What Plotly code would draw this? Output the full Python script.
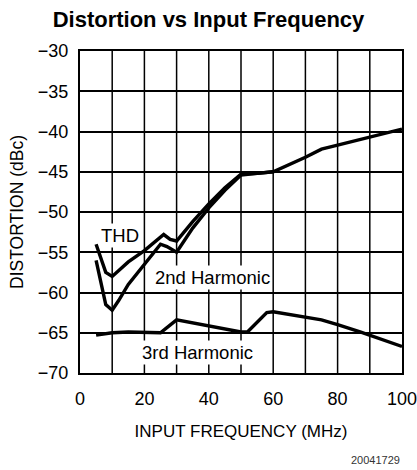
import plotly.graph_objects as go

thd_x = [5, 8, 10, 15, 20, 25, 26, 28, 30, 35, 40, 45, 50, 55, 60, 70, 75, 80, 90, 100]
thd_y = [-54, -57.5, -58, -56.2, -54.8, -53.1, -52.8, -53.4, -53.6, -51.2, -49, -47, -45.3, -45.2, -45, -43.2, -42.2, -41.7, -40.7, -39.7]

h2_x = [5, 8, 10, 12, 15, 20, 25, 27, 30, 35, 40, 45, 50, 55, 60]
h2_y = [-56, -61.5, -62.2, -61, -59, -56.5, -54, -54.3, -55, -52, -49.5, -47.3, -45.4, -45.2, -45]

h3_x = [5, 10, 15, 25, 30, 40, 50, 52, 58, 60, 70, 75, 80, 87, 100]
h3_y = [-65.3, -65, -64.9, -65, -63.4, -64.1, -64.9, -64.9, -62.5, -62.4, -63, -63.4, -64, -64.9, -66.7]

x_ticks = [0, 20, 40, 60, 80, 100]
y_ticks = [-30, -35, -40, -45, -50, -55, -60, -65, -70]

FONT = "Liberation Sans"

fig = go.Figure()
for xs, ys in [(thd_x, thd_y), (h2_x, h2_y), (h3_x, h3_y)]:
    fig.add_trace(go.Scatter(x=xs, y=ys, mode="lines",
                             line=dict(color="black", width=3.4),
                             showlegend=False, hoverinfo="skip"))

labels = [("THD", 12.5, -52.9), ("2nd Harmonic", 41, -58.1), ("3rd Harmonic", 36.5, -67.5)]
for t, lx, ly in labels:
    fig.add_annotation(x=lx, y=ly, text=t, showarrow=False,
                       font=dict(family=FONT, size=18.5, color="black"),
                       bgcolor="white", borderpad=1)

fig.add_annotation(x=1.0, y=-0.27, xref="paper", yref="paper", text="20041729",
                   showarrow=False, xanchor="right", yanchor="middle",
                   font=dict(family=FONT, size=11, color="#333"))

fig.update_layout(
    width=417, height=470,
    margin=dict(l=80, r=15, t=51, b=97, autoexpand=False),
    plot_bgcolor="white", paper_bgcolor="white",
    title=dict(text="<b>Distortion vs Input Frequency</b>", x=0.5, xanchor="center",
               y=0.96, yanchor="middle",
               font=dict(family=FONT, size=22, color="black")),
    xaxis=dict(range=[0, 100], tickvals=x_ticks, ticktext=[str(v) for v in x_ticks],
               showgrid=False, zeroline=False, automargin=False,
               ticklabeloverflow="allow",
               showline=True, linecolor="black", linewidth=2, mirror=True,
               ticks="outside", ticklen=8, tickcolor="white",
               tickfont=dict(family=FONT, size=18, color="black"),
               title=dict(text="INPUT FREQUENCY (MHz)", standoff=18,
                          font=dict(family=FONT, size=17, color="black"))),
    yaxis=dict(range=[-70, -30], tickvals=y_ticks, ticktext=["\u2212" + str(-v) for v in y_ticks],
               showgrid=True, gridcolor="black", gridwidth=1.5, zeroline=False,
               automargin=False, ticklabeloverflow="allow",
               showline=True, linecolor="black", linewidth=2, mirror=True,
               ticks="outside", ticklen=6, tickcolor="white",
               tickfont=dict(family=FONT, size=18, color="black"),
               title=dict(text="DISTORTION (dBc)", standoff=10,
                          font=dict(family=FONT, size=17.5, color="black"))),
)
for xv in range(10, 100, 10):
    fig.add_vline(x=xv, line=dict(color="black", width=1.5), layer="below")

fig.write_html("out.html", config={"displayModeBar": False},
               post_script="document.body.style.margin='0';document.body.style.overflow='hidden';")
